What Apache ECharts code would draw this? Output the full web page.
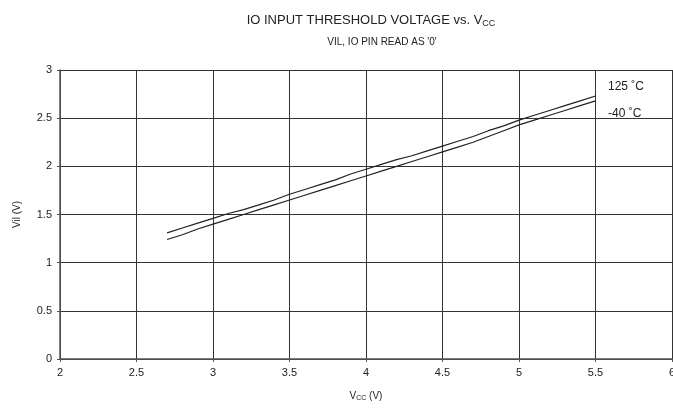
<!DOCTYPE html>
<html>
<head>
<meta charset="utf-8">
<script src="https://cdn.jsdelivr.net/npm/echarts@6/dist/echarts.min.js"></script>
<style>html,body{margin:0;padding:0;background:#fff}#c{width:673px;height:410px}</style>
</head>
<body>
<div id="c"></div>
<script>
var vcc = [2.7,2.8,2.9,3.0,3.1,3.2,3.3,3.4,3.5,3.6,3.7,3.8,3.9,4.0,4.1,4.2,4.3,4.4,4.5,4.6,4.7,4.8,4.9,5.0,5.1,5.2,5.3,5.4,5.5];
var vil125 = [1.31,1.36,1.41,1.46,1.51,1.55,1.60,1.65,1.71,1.76,1.81,1.86,1.92,1.97,2.02,2.07,2.11,2.16,2.21,2.26,2.31,2.37,2.42,2.48,2.53,2.58,2.63,2.68,2.73];
var vilM40 = [1.24,1.29,1.35,1.40,1.45,1.50,1.55,1.60,1.65,1.70,1.75,1.80,1.85,1.90,1.95,2.00,2.05,2.10,2.15,2.20,2.25,2.31,2.37,2.43,2.48,2.53,2.58,2.63,2.68];
var seriesNames = ['125 \u02daC', '-40 \u02daC'];
var xTicks = [2, 2.5, 3, 3.5, 4, 4.5, 5, 5.5, 6];
var yTicks = [0, 0.5, 1, 1.5, 2, 2.5, 3];

function pairs(xs, ys){ return xs.map(function(x,i){ return [x, ys[i]]; }); }
var FONT = 'Liberation Sans, Arial, sans-serif';
var chart = echarts.init(document.getElementById('c'), null, {renderer:'canvas'});
chart.setOption({
  animation: false,
  backgroundColor: '#fff',
  title: [
    { text: '{a|IO INPUT THRESHOLD VOLTAGE vs. V}{s|CC}', left: 366, top: 8, textAlign: 'center',
      textStyle: { fontWeight: 'normal', rich: { a: { fontFamily: FONT, fontSize: 13, fontWeight: 'normal', color: '#222' }, s: { fontFamily: FONT, fontSize: 9, fontWeight: 'normal', color: '#222', padding: [6,0,0,0] } } } },
    { text: "VIL, IO PIN READ AS '0'", left: 377, top: 32, textAlign: 'center',
      textStyle: { fontFamily: FONT, fontSize: 10, fontWeight: 'normal', color: '#222' } }
  ],
  legend: {
    data: seriesNames, orient: 'vertical', left: 598, top: 76, icon: 'none', itemWidth: 0, itemHeight: 0,
    itemGap: 15, textStyle: { fontFamily: FONT, fontSize: 12, color: '#222' }, selectedMode: false
  },
  grid: { left: 60, right: 1, top: 70, bottom: 51, outerBoundsMode: 'none', containLabel: false },
  xAxis: {
    type: 'value', min: 2, max: 6, interval: 0.5,
    name: '{v|V}{s|CC}{v| (V)}', nameLocation: 'middle', nameGap: 31,
    nameTextStyle: { rich: { v: { fontFamily: FONT, fontSize: 10, color: '#222' }, s: { fontFamily: FONT, fontSize: 7, color: '#222', padding: [5,0,0,0] } } },
    axisLine: { show: true, lineStyle: { color: '#555', width: 1.5 } },
    axisTick: { show: true, length: 3, lineStyle: { color: '#555' } },
    axisLabel: { fontFamily: FONT, fontSize: 11, color: '#222', margin: 8, hideOverlap: false,
      formatter: function(v){ return xTicks.indexOf(v) >= 0 ? String(v) : ''; } },
    splitLine: { show: true, lineStyle: { color: '#333', width: 1 } }
  },
  yAxis: {
    type: 'value', min: 0, max: 3, interval: 0.5,
    name: 'Vil (V)', nameLocation: 'middle', nameGap: 38,
    nameTextStyle: { fontFamily: FONT, fontSize: 10, color: '#222' },
    axisLine: { show: true, lineStyle: { color: '#555', width: 1.5 } },
    axisTick: { show: true, length: 3, lineStyle: { color: '#555' } },
    axisLabel: { fontFamily: FONT, fontSize: 11, color: '#222', margin: 8,
      formatter: function(v){ return yTicks.indexOf(v) >= 0 ? String(v) : ''; } },
    splitLine: { show: true, lineStyle: { color: '#333', width: 1 } }
  },
  series: [
    { name: seriesNames[0], type: 'line', data: pairs(vcc, vil125), showSymbol: false, symbol: 'none',
      lineStyle: { color: '#222', width: 1.2 }, itemStyle: { color: '#222' } },
    { name: seriesNames[1], type: 'line', data: pairs(vcc, vilM40), showSymbol: false, symbol: 'none',
      lineStyle: { color: '#222', width: 1.2 }, itemStyle: { color: '#222' } }
  ]
});
</script>
</body>
</html>
